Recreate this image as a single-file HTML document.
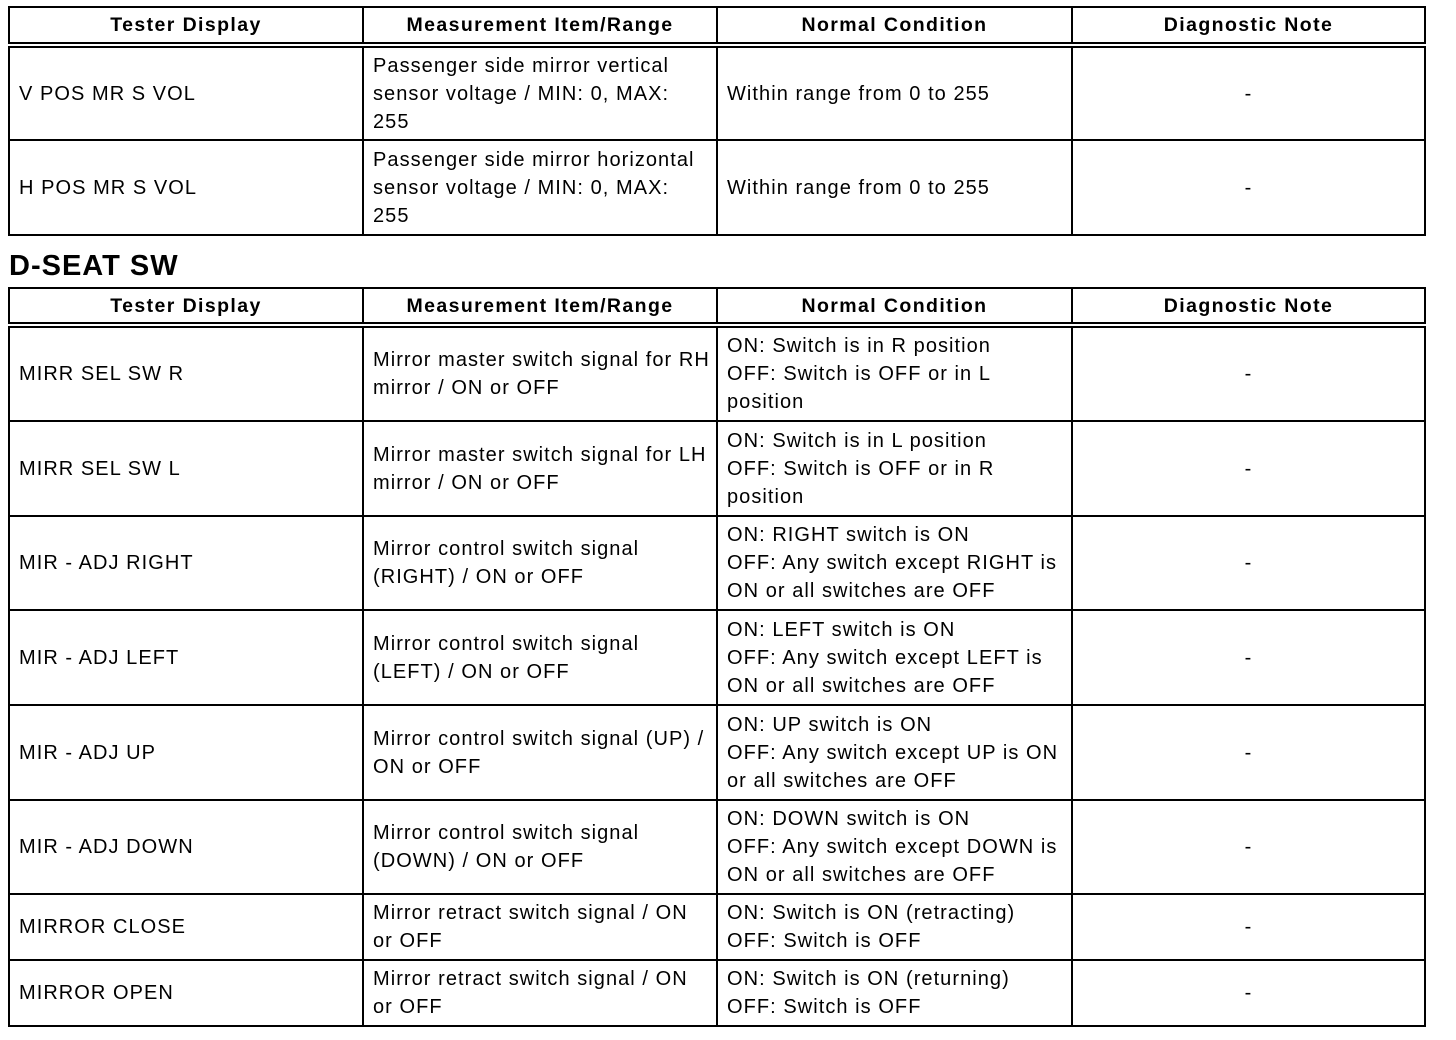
<!DOCTYPE html>
<html><head><meta charset="utf-8"><style>
body{margin:0;width:1456px;height:1040px;background:#fff;position:relative;overflow:hidden;font-family:"Liberation Sans",Arial,sans-serif;color:#000}
.c{position:absolute;box-sizing:border-box;border:2px solid #000;display:flex;align-items:center;padding-left:9px;font-size:20px;line-height:28px;white-space:nowrap;letter-spacing:1.05px}
.h{justify-content:center;padding-left:0;font-weight:bold;font-size:19.5px;letter-spacing:1.4px}
.d{justify-content:center;padding-left:0}
.a{left:8px;width:356px}.b{left:362px;width:356px}.e{left:716px;width:357px}.f{left:1071px;width:355px}
.t{position:absolute;left:9px;top:248px;font-weight:bold;font-size:29px;line-height:36px;letter-spacing:1px}
</style></head><body>
<div class="c h a" style="top:6px;height:38px">Tester Display</div>
<div class="c h b" style="top:6px;height:38px">Measurement Item/Range</div>
<div class="c h e" style="top:6px;height:38px">Normal Condition</div>
<div class="c h f" style="top:6px;height:38px">Diagnostic Note</div>

<div class="c a" style="top:46px;height:95px">V POS MR S VOL</div>
<div class="c b" style="top:46px;height:95px">Passenger side mirror vertical<br>sensor voltage / MIN: 0, MAX:<br>255</div>
<div class="c e" style="top:46px;height:95px">Within range from 0 to 255</div>
<div class="c d f" style="top:46px;height:95px">-</div>

<div class="c a" style="top:139px;height:97px">H POS MR S VOL</div>
<div class="c b" style="top:139px;height:97px">Passenger side mirror horizontal<br>sensor voltage / MIN: 0, MAX:<br>255</div>
<div class="c e" style="top:139px;height:97px">Within range from 0 to 255</div>
<div class="c d f" style="top:139px;height:97px">-</div>

<div class="t">D-SEAT SW</div>

<div class="c h a" style="top:287px;height:37px">Tester Display</div>
<div class="c h b" style="top:287px;height:37px">Measurement Item/Range</div>
<div class="c h e" style="top:287px;height:37px">Normal Condition</div>
<div class="c h f" style="top:287px;height:37px">Diagnostic Note</div>

<div class="c a" style="top:326px;height:96px">MIRR SEL SW R</div>
<div class="c b" style="top:326px;height:96px">Mirror master switch signal for RH<br>mirror / ON or OFF</div>
<div class="c e" style="top:326px;height:96px">ON: Switch is in R position<br>OFF: Switch is OFF or in L<br>position</div>
<div class="c d f" style="top:326px;height:96px">-</div>

<div class="c a" style="top:420px;height:97px">MIRR SEL SW L</div>
<div class="c b" style="top:420px;height:97px">Mirror master switch signal for LH<br>mirror / ON or OFF</div>
<div class="c e" style="top:420px;height:97px">ON: Switch is in L position<br>OFF: Switch is OFF or in R<br>position</div>
<div class="c d f" style="top:420px;height:97px">-</div>

<div class="c a" style="top:515px;height:96px">MIR - ADJ RIGHT</div>
<div class="c b" style="top:515px;height:96px">Mirror control switch signal<br>(RIGHT) / ON or OFF</div>
<div class="c e" style="top:515px;height:96px">ON: RIGHT switch is ON<br>OFF: Any switch except RIGHT is<br>ON or all switches are OFF</div>
<div class="c d f" style="top:515px;height:96px">-</div>

<div class="c a" style="top:609px;height:97px">MIR - ADJ LEFT</div>
<div class="c b" style="top:609px;height:97px">Mirror control switch signal<br>(LEFT) / ON or OFF</div>
<div class="c e" style="top:609px;height:97px">ON: LEFT switch is ON<br>OFF: Any switch except LEFT is<br>ON or all switches are OFF</div>
<div class="c d f" style="top:609px;height:97px">-</div>

<div class="c a" style="top:704px;height:97px">MIR - ADJ UP</div>
<div class="c b" style="top:704px;height:97px">Mirror control switch signal (UP) /<br>ON or OFF</div>
<div class="c e" style="top:704px;height:97px">ON: UP switch is ON<br>OFF: Any switch except UP is ON<br>or all switches are OFF</div>
<div class="c d f" style="top:704px;height:97px">-</div>

<div class="c a" style="top:799px;height:96px">MIR - ADJ DOWN</div>
<div class="c b" style="top:799px;height:96px">Mirror control switch signal<br>(DOWN) / ON or OFF</div>
<div class="c e" style="top:799px;height:96px">ON: DOWN switch is ON<br>OFF: Any switch except DOWN is<br>ON or all switches are OFF</div>
<div class="c d f" style="top:799px;height:96px">-</div>

<div class="c a" style="top:893px;height:68px">MIRROR CLOSE</div>
<div class="c b" style="top:893px;height:68px">Mirror retract switch signal / ON<br>or OFF</div>
<div class="c e" style="top:893px;height:68px">ON: Switch is ON (retracting)<br>OFF: Switch is OFF</div>
<div class="c d f" style="top:893px;height:68px">-</div>

<div class="c a" style="top:959px;height:68px">MIRROR OPEN</div>
<div class="c b" style="top:959px;height:68px">Mirror retract switch signal / ON<br>or OFF</div>
<div class="c e" style="top:959px;height:68px">ON: Switch is ON (returning)<br>OFF: Switch is OFF</div>
<div class="c d f" style="top:959px;height:68px">-</div>
</body></html>
